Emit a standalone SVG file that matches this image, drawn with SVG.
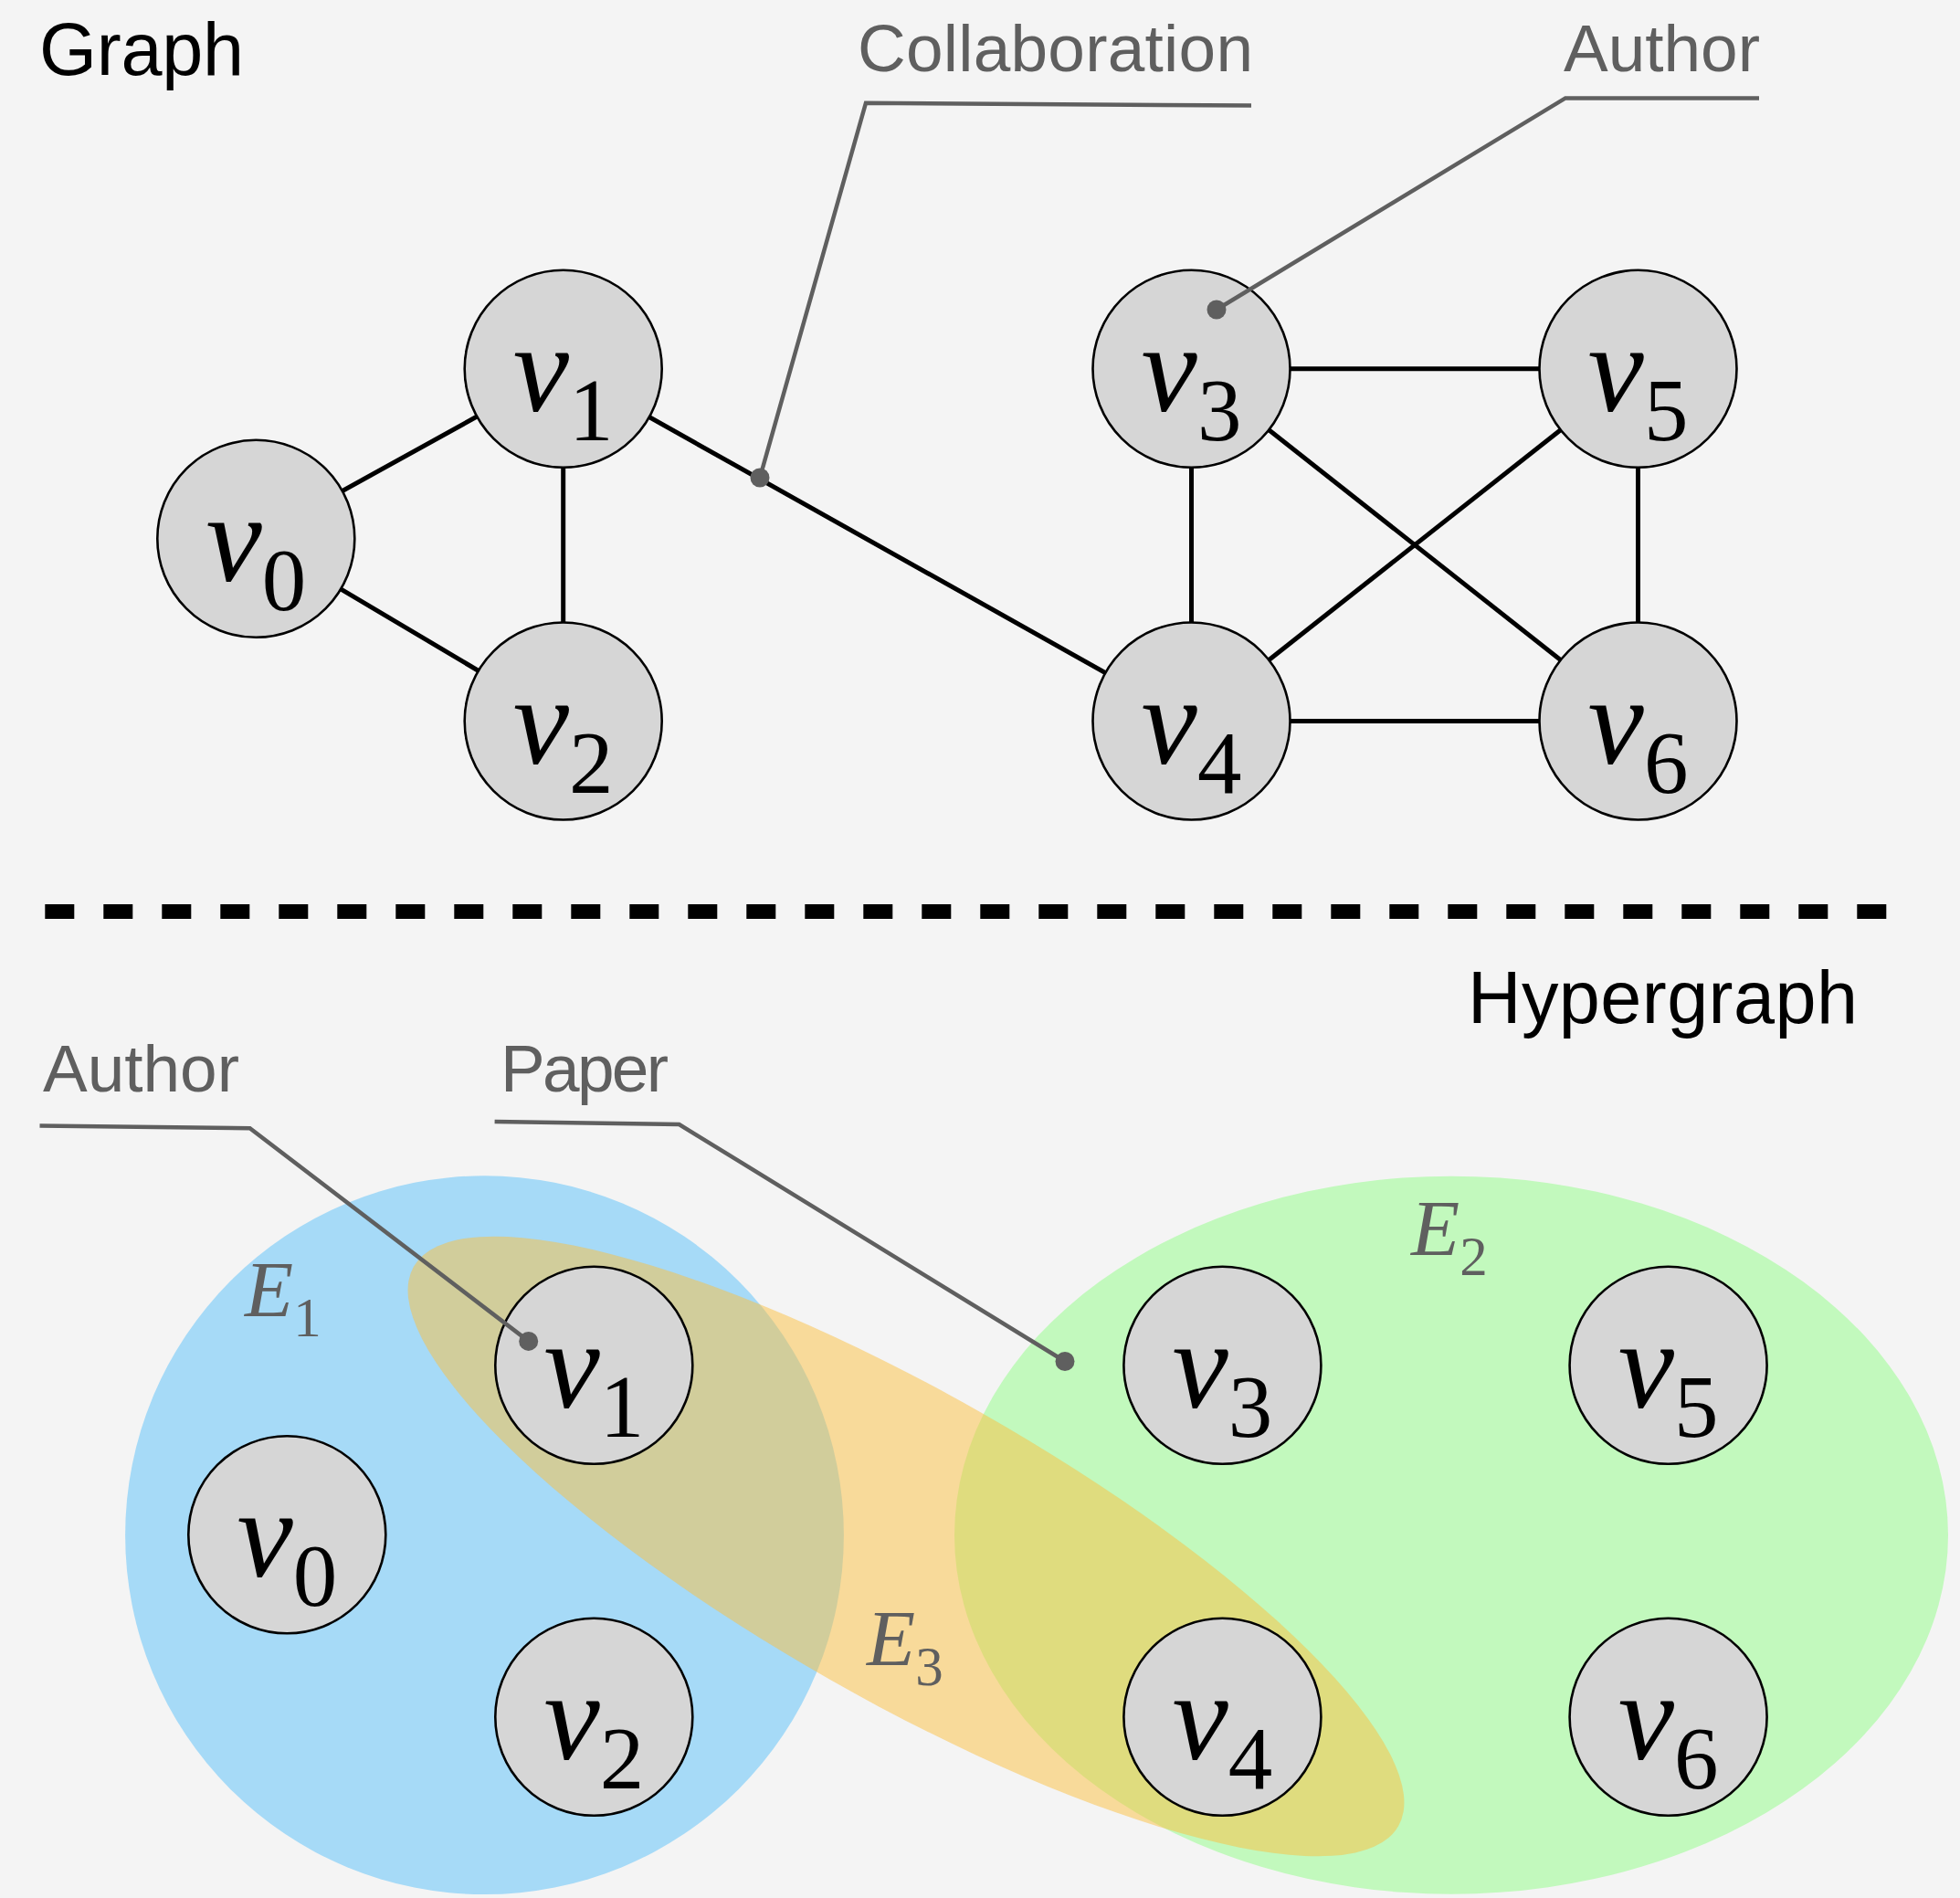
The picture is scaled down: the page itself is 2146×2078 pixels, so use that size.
<svg xmlns="http://www.w3.org/2000/svg" width="2146" height="2078" viewBox="0 0 2146 2078">
  <style>
    .title { font-family: "Liberation Sans", Arial, sans-serif; font-size: 81px; fill: #000; }
    .note { font-family: "Liberation Sans", Arial, sans-serif; font-size: 73px; fill: #5f5f5f; }
    .edge { stroke: #000; stroke-width: 5; fill: none; }
    .node circle { fill: #d6d6d6; stroke: #000; stroke-width: 2.6; }
    .vlab { font-family: "Liberation Serif", "Times New Roman", serif; font-size: 138px; fill: #000; text-anchor: middle; }
    .vlab .v { font-style: italic; }
    .vlab .s { font-size: 97px; }
    .elab { font-family: "Liberation Serif", "Times New Roman", serif; font-size: 87px; fill: #5f5f5f; }
    .elab .e { font-style: italic; }
    .elab .s { font-size: 61px; }
    .leader { stroke: #5f5f5f; stroke-width: 4.5; fill: none; stroke-linejoin: miter; }
    .dot { fill: #5f5f5f; }
  </style>

  <rect x="0" y="0" width="2146" height="2078" fill="#f4f4f4"/>

  <!-- Section titles -->
  <text class="title" x="43" y="82" textLength="224">Graph</text>
  <text class="title" x="1607" y="1120" textLength="427">Hypergraph</text>

  <!-- Separator -->
  <line x1="49.3" y1="998" x2="2067" y2="998" stroke="#000" stroke-width="16" stroke-dasharray="32 32"/>

  <!-- ===== Graph: edges ===== -->
  <g id="graph-edges">
    <line class="edge" x1="280.3" y1="589.8" x2="616.7" y2="403.8"/>
    <line class="edge" x1="280.3" y1="589.8" x2="616.7" y2="789.5"/>
    <line class="edge" x1="616.7" y1="403.8" x2="616.7" y2="789.5"/>
    <line class="edge" x1="616.7" y1="403.8" x2="1304.5" y2="789.5"/>
    <line class="edge" x1="1304.5" y1="403.8" x2="1793.5" y2="403.8"/>
    <line class="edge" x1="1304.5" y1="403.8" x2="1304.5" y2="789.5"/>
    <line class="edge" x1="1304.5" y1="403.8" x2="1793.5" y2="789.5"/>
    <line class="edge" x1="1793.5" y1="403.8" x2="1304.5" y2="789.5"/>
    <line class="edge" x1="1793.5" y1="403.8" x2="1793.5" y2="789.5"/>
    <line class="edge" x1="1304.5" y1="789.5" x2="1793.5" y2="789.5"/>
  </g>

  <!-- ===== Graph: nodes ===== -->
  <g id="g-v0" class="node"><circle cx="280.3" cy="589.8" r="108"/>
    <text class="vlab" x="280.3" y="635.8"><tspan class="v">v</tspan><tspan class="s" dy="32">0</tspan></text></g>
  <g id="g-v1" class="node"><circle cx="616.7" cy="403.8" r="108"/>
    <text class="vlab" x="616.7" y="449.8"><tspan class="v">v</tspan><tspan class="s" dy="32">1</tspan></text></g>
  <g id="g-v2" class="node"><circle cx="616.7" cy="789.5" r="108"/>
    <text class="vlab" x="616.7" y="835.5"><tspan class="v">v</tspan><tspan class="s" dy="32">2</tspan></text></g>
  <g id="g-v3" class="node"><circle cx="1304.5" cy="403.8" r="108"/>
    <text class="vlab" x="1304.5" y="449.8"><tspan class="v">v</tspan><tspan class="s" dy="32">3</tspan></text></g>
  <g id="g-v4" class="node"><circle cx="1304.5" cy="789.5" r="108"/>
    <text class="vlab" x="1304.5" y="835.5"><tspan class="v">v</tspan><tspan class="s" dy="32">4</tspan></text></g>
  <g id="g-v5" class="node"><circle cx="1793.5" cy="403.8" r="108"/>
    <text class="vlab" x="1793.5" y="449.8"><tspan class="v">v</tspan><tspan class="s" dy="32">5</tspan></text></g>
  <g id="g-v6" class="node"><circle cx="1793.5" cy="789.5" r="108"/>
    <text class="vlab" x="1793.5" y="835.5"><tspan class="v">v</tspan><tspan class="s" dy="32">6</tspan></text></g>

  <!-- Graph callouts -->
  <g id="callout-collaboration">
    <text class="note" x="939" y="77.5" textLength="433">Collaboration</text>
    <polyline class="leader" points="832,523 948,112.7 1370,115.6"/>
    <circle class="dot" cx="832" cy="523" r="10.5"/>
  </g>
  <g id="callout-author-top">
    <text class="note" x="1712" y="77.5" textLength="215">Author</text>
    <polyline class="leader" points="1332,339 1714,107.4 1926,107.4"/>
    <circle class="dot" cx="1332" cy="339" r="10.5"/>
  </g>

  <!-- ===== Hypergraph: hyperedges ===== -->
  <g id="hyperedges">
    <circle id="E1" cx="530.5" cy="1680.7" r="393.4" fill="#a6daf7"/>
    <ellipse id="E2" cx="1589" cy="1680.7" rx="544" ry="393" fill="#c2f9bd"/>
    <ellipse id="E3" cx="0" cy="0" rx="620" ry="168" fill="#fcc040" fill-opacity="0.5" transform="translate(992 1693) rotate(29.6)"/>
  </g>

  <text class="elab" x="268" y="1441"><tspan class="e">E</tspan><tspan class="s" dy="22">1</tspan></text>
  <text class="elab" x="1545" y="1373.5"><tspan class="e">E</tspan><tspan class="s" dy="22">2</tspan></text>
  <text class="elab" x="949" y="1823.3"><tspan class="e">E</tspan><tspan class="s" dy="22">3</tspan></text>

  <!-- ===== Hypergraph: nodes ===== -->
  <g id="h-v0" class="node"><circle cx="314.3" cy="1680.3" r="108"/>
    <text class="vlab" x="314.3" y="1726.3"><tspan class="v">v</tspan><tspan class="s" dy="32">0</tspan></text></g>
  <g id="h-v1" class="node"><circle cx="650.3" cy="1494.8" r="108"/>
    <text class="vlab" x="650.3" y="1540.8"><tspan class="v">v</tspan><tspan class="s" dy="32">1</tspan></text></g>
  <g id="h-v2" class="node"><circle cx="650.3" cy="1879.8" r="108"/>
    <text class="vlab" x="650.3" y="1925.8"><tspan class="v">v</tspan><tspan class="s" dy="32">2</tspan></text></g>
  <g id="h-v3" class="node"><circle cx="1338.4" cy="1494.8" r="108"/>
    <text class="vlab" x="1338.4" y="1540.8"><tspan class="v">v</tspan><tspan class="s" dy="32">3</tspan></text></g>
  <g id="h-v4" class="node"><circle cx="1338.4" cy="1879.8" r="108"/>
    <text class="vlab" x="1338.4" y="1925.8"><tspan class="v">v</tspan><tspan class="s" dy="32">4</tspan></text></g>
  <g id="h-v5" class="node"><circle cx="1826.6" cy="1494.8" r="108"/>
    <text class="vlab" x="1826.6" y="1540.8"><tspan class="v">v</tspan><tspan class="s" dy="32">5</tspan></text></g>
  <g id="h-v6" class="node"><circle cx="1826.6" cy="1879.8" r="108"/>
    <text class="vlab" x="1826.6" y="1925.8"><tspan class="v">v</tspan><tspan class="s" dy="32">6</tspan></text></g>

  <!-- Hypergraph callouts -->
  <g id="callout-author-bottom">
    <text class="note" x="47" y="1195.3" textLength="215">Author</text>
    <polyline class="leader" points="43.5,1232.4 273.6,1235.2 578.7,1468.4"/>
    <circle class="dot" cx="578.7" cy="1468.4" r="10.5"/>
  </g>
  <g id="callout-paper">
    <text class="note" x="548" y="1195.3" textLength="184">Paper</text>
    <polyline class="leader" points="541.6,1228 743.6,1231 1166,1490.5"/>
    <circle class="dot" cx="1166" cy="1490.5" r="10.5"/>
  </g>
</svg>
